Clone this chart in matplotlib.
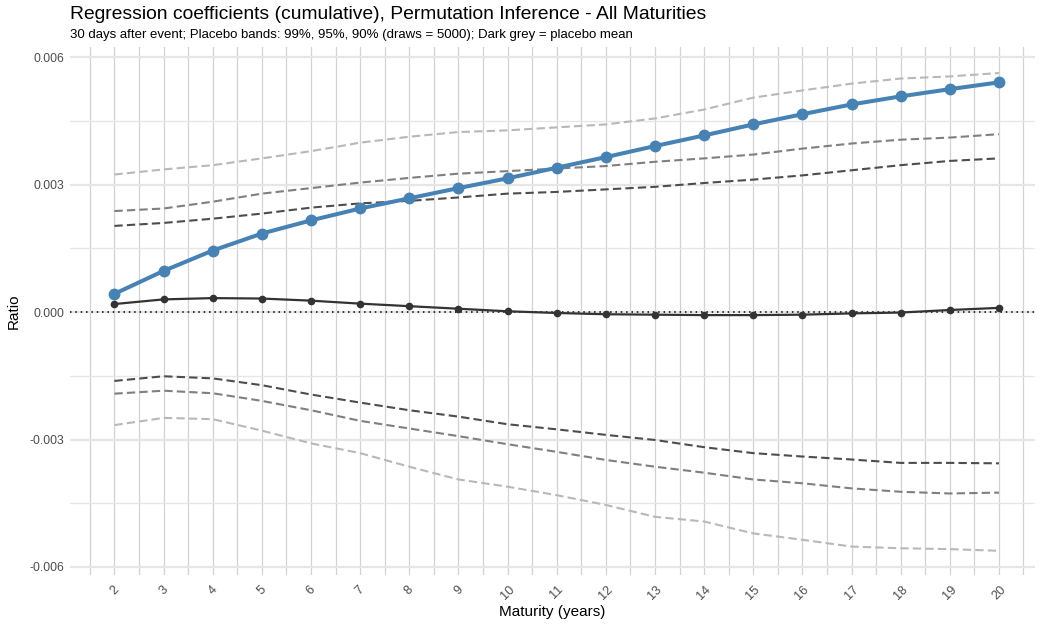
import matplotlib
matplotlib.use('Agg')
import matplotlib.pyplot as plt
import numpy as np

plt.rcParams['font.family'] = ['Liberation Sans', 'DejaVu Sans']

maturity = list(range(2, 21))

coef = [0.00043, 0.00097, 0.00145, 0.00185, 0.00216, 0.00244, 0.00268, 0.00292,
        0.00315, 0.00340, 0.00365, 0.00391, 0.00416, 0.00442, 0.00466, 0.00489,
        0.00508, 0.00525, 0.00541]
placebo_mean = [0.00019, 0.00030, 0.00033, 0.00032, 0.00027, 0.00020, 0.00014, 0.00008,
                0.00002, -0.00002, -0.00005, -0.00006, -0.00007, -0.00007, -0.00006,
                -0.00003, -0.00001, 0.00005, 0.00010]

upper_99 = [0.00324, 0.00336, 0.00346, 0.00362, 0.00379, 0.00399, 0.00413, 0.00424,
            0.00428, 0.00435, 0.00442, 0.00456, 0.00477, 0.00505, 0.00522, 0.00538,
            0.00550, 0.00555, 0.00563]
upper_95 = [0.00238, 0.00244, 0.00260, 0.00279, 0.00292, 0.00305, 0.00316, 0.00326,
            0.00332, 0.00338, 0.00344, 0.00354, 0.00362, 0.00371, 0.00385, 0.00397,
            0.00406, 0.00411, 0.00419]
upper_90 = [0.00203, 0.00210, 0.00220, 0.00232, 0.00246, 0.00256, 0.00262, 0.00270,
            0.00279, 0.00283, 0.00289, 0.00295, 0.00304, 0.00312, 0.00322, 0.00334,
            0.00346, 0.00356, 0.00362]
lower_90 = [-0.00162, -0.00151, -0.00156, -0.00172, -0.00194, -0.00213, -0.00231, -0.00246,
            -0.00264, -0.00276, -0.00289, -0.00301, -0.00318, -0.00332, -0.00340, -0.00347,
            -0.00355, -0.00355, -0.00356]
lower_95 = [-0.00192, -0.00185, -0.00191, -0.00209, -0.00231, -0.00256, -0.00274, -0.00292,
            -0.00311, -0.00329, -0.00348, -0.00364, -0.00378, -0.00394, -0.00403, -0.00415,
            -0.00423, -0.00427, -0.00425]
lower_99 = [-0.00266, -0.00249, -0.00252, -0.00279, -0.00309, -0.00332, -0.00364, -0.00394,
            -0.00411, -0.00431, -0.00454, -0.00482, -0.00493, -0.00521, -0.00536, -0.00552,
            -0.00556, -0.00558, -0.00562]

y_ticks = [-0.006, -0.003, 0.0, 0.003, 0.006]
y_labels = ['-0.006', '-0.003', '0.000', '0.003', '0.006']

fig = plt.figure(figsize=(10.4, 6.24), dpi=100)
ax = fig.add_axes([0.067, 0.0785, 0.928, 0.846])

ax.set_xlim(1.09, 20.73)
ax.set_ylim(-0.00619, 0.00624)

# grid (ggplot theme_minimal look)
for x in np.arange(1.5, 21.0, 0.5):
    ax.axvline(x, color='#d2d2d2', lw=0.9, zorder=0)
for y in y_ticks:
    ax.axhline(y, color='#e6e6e6', lw=1.6, zorder=0)
for y in [-0.0045, -0.0015, 0.0015, 0.0045]:
    ax.axhline(y, color='#e6e6e6', lw=0.9, zorder=0)

band_style = dict(lw=1.5, linestyle=(0, (4, 2)), zorder=2)
ax.plot(maturity, upper_99, color='#b8b8b8', **band_style)
ax.plot(maturity, lower_99, color='#b8b8b8', **band_style)
ax.plot(maturity, upper_95, color='#7f7f7f', **band_style)
ax.plot(maturity, lower_95, color='#7f7f7f', **band_style)
ax.plot(maturity, upper_90, color='#4d4d4d', **band_style)
ax.plot(maturity, lower_90, color='#4d4d4d', **band_style)

ax.axhline(0, color='black', lw=1.1, linestyle=(0, (1, 2.5)), zorder=3)

ax.plot(maturity, placebo_mean, color='#333333', lw=1.6, marker='o', ms=4.5, zorder=4)
ax.plot(maturity, coef, color='#4682b4', lw=2.9, marker='o', ms=7.5, zorder=5)

ax.set_xticks(maturity)
ax.set_xticklabels([str(m) for m in maturity], rotation=45, color='#4d4d4d', fontsize=9.2)
ax.set_yticks(y_ticks)
ax.set_yticklabels(y_labels, color='#4d4d4d', fontsize=8.8)
ax.tick_params(axis='x', length=0, pad=6)
ax.tick_params(axis='y', length=0, pad=4)
for s in ax.spines.values():
    s.set_visible(False)

ax.set_xlabel('Maturity (years)', fontsize=11, labelpad=2)
ax.set_ylabel('Ratio', fontsize=11, labelpad=6)

fig.text(0.067, 0.97, 'Regression coefficients (cumulative), Permutation Inference - All Maturities',
         fontsize=13.9, va='baseline', ha='left')
fig.text(0.067, 0.939, '30 days after event; Placebo bands: 99%, 95%, 90% (draws = 5000); Dark grey = placebo mean',
         fontsize=9.5, va='baseline', ha='left')

fig.savefig('out.png', dpi=100)
